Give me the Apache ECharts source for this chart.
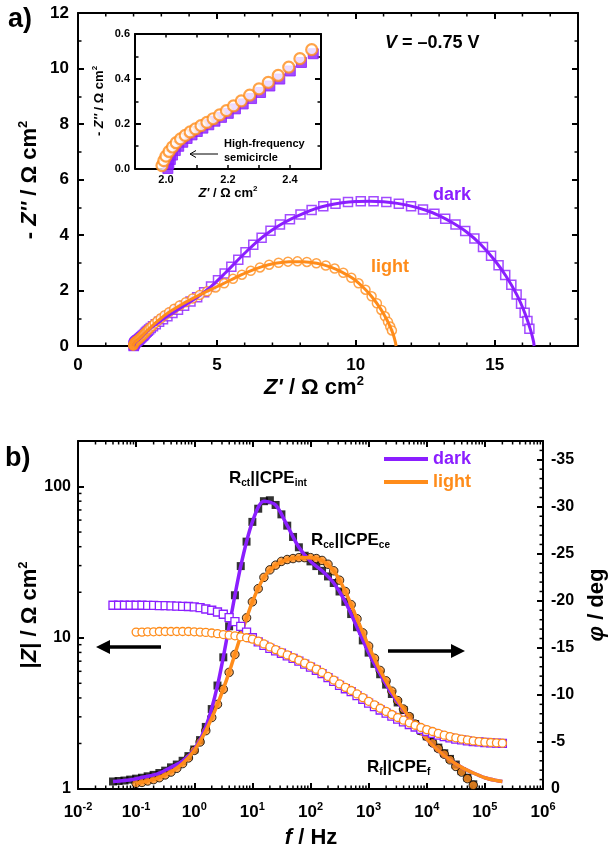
<!DOCTYPE html>
<html><head><meta charset="utf-8">
<script src="https://cdn.jsdelivr.net/npm/echarts@6.0.0/dist/echarts.min.js"></script>
<style>html,body{margin:0;padding:0;background:#fff}#c{width:609px;height:852px}</style>
</head><body><div id="c"></div>
<script>
// ---------- DATA ----------
// Panel a: Nyquist (Z', -Z'') in ohm cm2
const nyqDark = [[2.006,0.0],[2.009,0.02],[2.014,0.04],[2.021,0.06],[2.03,0.08],[2.041,0.099],[2.054,0.117],[2.068,0.134],[2.084,0.15],[2.101,0.165],[2.119,0.18],[2.138,0.195],[2.158,0.211],[2.179,0.228],[2.201,0.246],[2.224,0.266],[2.249,0.288],[2.276,0.312],[2.305,0.339],[2.335,0.368],[2.367,0.399],[2.401,0.435],[2.437,0.473],[2.475,0.512],[2.515,0.552],[2.56,0.595],[2.62,0.645],[2.7,0.71],[2.8,0.785],[2.92,0.87],[3.06,0.965],[3.22,1.07],[3.4,1.185],[3.6,1.31],[3.82,1.45],[4.05,1.6],[4.29,1.76],[4.54,1.94],[4.79,2.14],[5.04,2.37],[5.28,2.61],[5.52,2.86],[5.77,3.11],[6.03,3.38],[6.31,3.65],[6.61,3.9],[6.93,4.15],[7.27,4.38],[7.63,4.57],[8.01,4.74],[8.41,4.9],[8.83,5.04],[9.27,5.13],[9.72,5.19],[10.18,5.22],[10.64,5.22],[11.1,5.19],[11.55,5.13],[11.99,5.04],[12.42,4.92],[12.83,4.77],[13.22,4.59],[13.59,4.38],[13.94,4.14],[14.27,3.87],[14.58,3.57],[14.87,3.25],[15.14,2.91],[15.38,2.56],[15.6,2.21],[15.79,1.86],[15.95,1.52],[16.08,1.2],[16.18,0.9],[16.25,0.62]];
const nyqDarkFit = [[2.006,0],[2.02,0.06],[2.054,0.117],[2.1,0.165],[2.16,0.212],[2.25,0.289],[2.4,0.434],[2.6,0.63],[2.85,0.81],[3.1,0.99],[3.4,1.185],[3.75,1.41],[4.1,1.63],[4.5,1.91],[4.9,2.24],[5.3,2.63],[5.7,3.04],[6.1,3.44],[6.5,3.81],[6.9,4.12],[7.3,4.38],[7.7,4.59],[8.1,4.77],[8.5,4.93],[9.0,5.07],[9.5,5.16],[10.0,5.21],[10.5,5.22],[11.0,5.2],[11.5,5.14],[12.0,5.04],[12.5,4.9],[13.0,4.7],[13.5,4.43],[14.0,4.1],[14.5,3.66],[15.0,3.09],[15.4,2.53],[15.8,1.84],[16.1,1.15],[16.3,0.55],[16.4,0.16],[16.42,0]];
const nyqLight = [[1.987,0.013],[1.993,0.035],[2.0,0.055],[2.01,0.076],[2.021,0.096],[2.033,0.115],[2.047,0.132],[2.062,0.148],[2.078,0.163],[2.095,0.177],[2.113,0.191],[2.132,0.206],[2.152,0.222],[2.173,0.239],[2.195,0.258],[2.218,0.279],[2.243,0.302],[2.27,0.327],[2.3,0.355],[2.33,0.384],[2.362,0.415],[2.396,0.452],[2.432,0.49],[2.47,0.53],[2.51,0.57],[2.555,0.612],[2.61,0.665],[2.68,0.73],[2.76,0.81],[2.86,0.9],[2.98,1.0],[3.12,1.11],[3.28,1.22],[3.46,1.34],[3.66,1.46],[3.88,1.58],[4.12,1.71],[4.38,1.84],[4.65,1.97],[4.95,2.11],[5.26,2.26],[5.58,2.42],[5.9,2.57],[6.22,2.71],[6.55,2.83],[6.88,2.93],[7.22,3.0],[7.56,3.04],[7.9,3.05],[8.24,3.03],[8.58,2.98],[8.92,2.9],[9.24,2.79],[9.55,2.64],[9.84,2.46],[10.1,2.26],[10.35,2.03],[10.57,1.79],[10.76,1.54],[10.92,1.3],[11.05,1.07],[11.16,0.87],[11.24,0.7],[11.3,0.56]];
const nyqLightFit = [[1.985,0],[1.99,0.03],[2.01,0.076],[2.04,0.123],[2.08,0.164],[2.13,0.204],[2.2,0.262],[2.3,0.355],[2.42,0.478],[2.55,0.607],[2.75,0.8],[3.0,1.01],[3.3,1.23],[3.7,1.48],[4.1,1.7],[4.6,1.95],[5.1,2.18],[5.6,2.43],[6.1,2.66],[6.6,2.85],[7.1,2.98],[7.6,3.04],[8.1,3.04],[8.6,2.98],[9.1,2.84],[9.5,2.66],[9.9,2.43],[10.3,2.08],[10.6,1.75],[10.9,1.33],[11.1,0.98],[11.25,0.67],[11.36,0.38],[11.43,0.12],[11.45,0]];

// Panel b: Bode, frequency in Hz
const freq = [0.04,0.05,0.063,0.079,0.1,0.126,0.158,0.2,0.251,0.316,0.398,0.501,0.631,0.794,1,1.26,1.58,2,2.51,3.16,3.98,5.01,6.31,7.94,10,12.6,15.8,20,25.1,31.6,39.8,50.1,63.1,79.4,100,126,158,200,251,316,398,501,631,794,1000,1260,1580,2000,2510,3160,3980,5010,6310,7940,10000,12600,15800,20000,25100,31600,39800,50100,63100,79400,100000,126000,158000,200000];
const zDark = [16.4,16.4,16.4,16.4,16.4,16.4,16.35,16.35,16.3,16.3,
  16.25,16.2,16.15,16.1,16.0,15.8,15.5,15.2,14.8,14.3,
  13.6,12.8,11.9,10.9,10.0,9.4,8.9,8.5,8.2,7.9,
  7.6,7.3,7.0,6.7,6.4,6.1,5.8,5.45,5.15,4.85,
  4.6,4.4,4.15,3.92,3.7,3.5,3.33,3.17,3.03,2.9,
  2.78,2.67,2.57,2.48,2.4,2.33,2.27,2.22,2.18,2.14,
  2.11,2.08,2.06,2.05,2.03,2.02,2.01,2.0];
const zLight = ['-','-','-','-',10.9,10.9,10.95,10.95,11.0,11.0,
  11.0,11.0,11.0,11.0,10.95,10.9,10.85,10.75,10.65,10.5,
  10.4,10.3,10.15,10.0,9.8,9.5,9.1,8.7,8.35,8.0,
  7.7,7.4,7.1,6.8,6.5,6.2,5.9,5.55,5.25,4.95,
  4.7,4.48,4.25,4.02,3.8,3.6,3.42,3.26,3.11,2.97,
  2.85,2.74,2.64,2.55,2.47,2.4,2.33,2.27,2.22,2.18,
  2.14,2.11,2.08,2.06,2.04,2.03,2.02,2.01];
const phDark = [-0.8,-0.85,-0.9,-1.0,-1.1,-1.2,-1.35,-1.5,-1.7,-1.95,
  -2.3,-2.6,-3.0,-3.5,-4.2,-5.2,-6.6,-8.5,-11.0,-14.0,
  -17.3,-20.6,-23.7,-26.3,-28.4,-29.8,-30.6,-30.7,-30.2,-29.2,
  -28.0,-26.8,-25.7,-24.8,-24.2,-23.7,-23.2,-22.6,-21.9,-21.0,
  -19.9,-18.6,-17.2,-15.8,-14.5,-13.3,-12.2,-11.1,-10.1,-9.2,
  -8.4,-7.6,-6.9,-6.2,-5.6,-5.0,-4.4,-3.8,-3.2,-2.6,
  -1.9,-1.2,-0.5,0.2,1.0,1.8,2.6,3.4];
const phLight = ['-','-','-','-',-0.6,-0.7,-0.85,-1.0,-1.2,-1.5,
  -1.8,-2.2,-2.7,-3.3,-4.1,-5.0,-6.2,-7.6,-9.0,-10.6,
  -12.4,-14.3,-16.3,-18.2,-19.9,-21.3,-22.5,-23.3,-23.8,-24.2,
  -24.4,-24.5,-24.6,-24.6,-24.6,-24.5,-24.3,-23.9,-23.2,-22.2,
  -21.0,-19.6,-18.1,-16.6,-15.2,-13.9,-12.6,-11.5,-10.4,-9.4,
  -8.5,-7.7,-6.9,-6.2,-5.6,-4.9,-4.3,-3.7,-3.1,-2.4,
  -1.8,-1.1,-0.4,0.3,1.0,1.7,2.4,3.1];
const fitFreq = [0.04,0.063,0.1,0.158,0.251,0.398,0.631,1,1.58,2.51,3.98,6.31,10,15.8,25.1,39.8,63.1,100,158,251,398,631,1000,1580,2510,3980,6310,10000,15800,25100,39800,63100,100000,158000,200000];
const phFitDark = [-0.8,-0.9,-1.1,-1.35,-1.7,-2.3,-3.0,-4.2,-6.6,-11.0,-17.3,-23.7,-28.4,-30.6,-30.2,-28.0,-25.7,-24.2,-23.2,-21.9,-19.9,-17.2,-14.5,-12.2,-10.1,-8.4,-6.8,-5.3,-4.1,-3.1,-2.3,-1.7,-1.2,-0.9,-0.8];
const phFitLight = ['-','-',-0.6,-0.85,-1.2,-1.8,-2.7,-4.1,-6.2,-9.0,-12.4,-16.3,-19.9,-22.5,-23.8,-24.4,-24.6,-24.6,-24.3,-23.2,-21.0,-18.1,-15.2,-12.6,-10.4,-8.5,-6.8,-5.3,-4.1,-3.1,-2.3,-1.7,-1.2,-0.9,-0.8];

// ---------- STYLE ----------
const PURPLE = '#8B1EFF', ORANGE = '#FF8C1A';
const F = '"Liberation Sans", Arial, Helvetica, sans-serif';

const chart = echarts.init(document.getElementById('c'), null, {renderer: 'canvas'});

function pairs(xs, ys) { const out = []; xs.forEach((x, i) => { if (ys[i] !== '-') out.push([x, ys[i]]); }); return out; }
function lab(size, extra) { return Object.assign({fontFamily: F, fontWeight: 'bold', fontSize: size, color: '#000'}, extra || {}); }
const line2 = {onZero: false, lineStyle: {color: '#000', width: 2}};
const tickMaj = {inside: true, length: 6, lineStyle: {color: '#000', width: 2}};
const tickIn = {inside: true, length: 3.5, lineStyle: {color: '#000', width: 1.5}};
const minor2 = {show: true, splitNumber: 2, length: 3.5, lineStyle: {color: '#000', width: 1.5}};
const noSplit = {show: false};

function ln(x1, y1, x2, y2) { return {type: 'line', shape: {x1, y1, x2, y2}, style: {stroke: '#000', lineWidth: 1.5}}; }

// minor tick positions (axis decoration)
const minorA = []; for (let v = 1; v < 18; v++) if (v % 5) minorA.push([v, 0]);
const minorLogX = []; for (let k = -2; k <= 5; k++) for (let m = 2; m <= 9; m++) minorLogX.push([+(m * Math.pow(10, k)).toPrecision(3), 1]);
const minorLogY = []; for (let k = 0; k <= 1; k++) for (let m = 2; m <= 9; m++) minorLogY.push([0.01, +(m * Math.pow(10, k)).toPrecision(3)]);
const minorPh = []; for (let v = -1; v > -37; v--) if (v % 5) minorPh.push([1e6, v]);

const supRich = {
  b: {fontFamily: F, fontWeight: 'bold', fontSize: 17, color: '#000', lineHeight: 22},
  s: {fontFamily: F, fontWeight: 'bold', fontSize: 11, color: '#000', lineHeight: 12, verticalAlign: 'top'}
};

const option = {
  animation: false,
  backgroundColor: '#fff',
  grid: [
    {left: 78, top: 13, width: 500, height: 333},
    {left: 135, top: 34, width: 186, height: 134.5, show: true, backgroundColor: '#fff', borderWidth: 0},
    {left: 78, top: 441, width: 465, height: 348}
  ],
  xAxis: [
    {gridIndex: 0, type: 'value', min: 0, max: 18, interval: 5, position: 'bottom', axisLine: line2, axisTick: tickMaj, axisLabel: lab(17, {margin: 11, showMaxLabel: false}), splitLine: noSplit},
    {gridIndex: 0, type: 'value', min: 0, max: 18, interval: 5, position: 'top', axisLine: line2, axisTick: tickMaj, axisLabel: {show: false}, splitLine: noSplit},
    {gridIndex: 1, type: 'value', min: 1.9, max: 2.5, interval: 0.1, position: 'bottom', axisLine: line2, axisTick: tickIn,
      axisLabel: lab(11, {margin: 6, formatter: v => (Math.round(v * 10) % 2 === 0 ? v.toFixed(1) : '')}), splitLine: noSplit},
    {gridIndex: 1, type: 'value', min: 1.9, max: 2.5, interval: 0.1, position: 'top', axisLine: line2, axisTick: tickIn, axisLabel: {show: false}, splitLine: noSplit},
    {gridIndex: 2, type: 'log', logBase: 10, min: 0.01, max: 1e6, position: 'bottom', axisLine: line2, axisTick: tickMaj,
      axisLabel: {margin: 12, formatter: v => '{b|10}{s|' + Math.round(Math.log10(v)) + '}', rich: supRich}, splitLine: noSplit},
    {gridIndex: 2, type: 'log', logBase: 10, min: 0.01, max: 1e6, position: 'top', axisLine: line2, axisTick: tickMaj, axisLabel: {show: false}, splitLine: noSplit}
  ],
  yAxis: [
    {gridIndex: 0, type: 'value', min: 0, max: 12, interval: 2, position: 'left', axisLine: line2, axisTick: tickMaj, minorTick: minor2, axisLabel: lab(17, {margin: 9}), splitLine: noSplit, minorSplitLine: noSplit},
    {gridIndex: 0, type: 'value', min: 0, max: 12, interval: 2, position: 'right', axisLine: line2, axisTick: tickMaj, minorTick: minor2, axisLabel: {show: false}, splitLine: noSplit},
    {gridIndex: 1, type: 'value', min: 0, max: 0.6, interval: 0.2, position: 'left', axisLine: line2, axisTick: tickMaj, minorTick: minor2,
      axisLabel: lab(11, {margin: 5, formatter: v => v.toFixed(1)}), splitLine: noSplit},
    {gridIndex: 1, type: 'value', min: 0, max: 0.6, interval: 0.2, position: 'right', axisLine: line2, axisTick: tickMaj, minorTick: minor2, axisLabel: {show: false}, splitLine: noSplit},
    {gridIndex: 2, type: 'log', logBase: 10, min: 1, max: 200, position: 'left', axisLine: line2, axisTick: tickMaj,
      axisLabel: lab(16, {margin: 7, showMaxLabel: false, formatter: v => String(Math.round(v))}), splitLine: noSplit},
    {gridIndex: 2, type: 'value', min: -37, max: 0, inverse: true, splitNumber: 8, position: 'right', axisLine: line2, axisTick: tickMaj,
      axisLabel: lab(16, {margin: 8, showMinLabel: false}), splitLine: noSplit}
  ],
  series: [
    // panel a main
    {type: 'scatter', xAxisIndex: 0, yAxisIndex: 0, data: nyqDark, symbol: 'rect', symbolSize: 9, itemStyle: {color: '#fff', borderColor: PURPLE, borderWidth: 1.5}},
    {type: 'line', xAxisIndex: 0, yAxisIndex: 0, data: nyqDarkFit, showSymbol: false, smooth: 0.3, lineStyle: {color: PURPLE, width: 3}},
    {type: 'scatter', xAxisIndex: 0, yAxisIndex: 0, data: nyqLight, symbol: 'circle', symbolSize: 9, itemStyle: {color: '#fff', borderColor: ORANGE, borderWidth: 1.5}},
    {type: 'line', xAxisIndex: 0, yAxisIndex: 0, data: nyqLightFit, showSymbol: false, smooth: 0.3, lineStyle: {color: ORANGE, width: 3}},
    // inset
    {type: 'scatter', xAxisIndex: 2, yAxisIndex: 2, data: nyqDark, symbol: 'rect', symbolSize: 10, clip: true, itemStyle: {color: PURPLE, borderColor: PURPLE, borderWidth: 1}},
    {type: 'scatter', xAxisIndex: 2, yAxisIndex: 2, data: nyqLight, symbol: 'circle', symbolSize: 11, clip: true, itemStyle: {color: '#fff', borderColor: ORANGE, borderWidth: 2.2}},
    // panel b |Z|
    {type: 'line', xAxisIndex: 4, yAxisIndex: 4, data: pairs(freq, zDark), symbol: 'rect', symbolSize: 8, showSymbol: true,
      itemStyle: {color: '#fff', borderColor: PURPLE, borderWidth: 1.3}, lineStyle: {color: PURPLE, width: 1}},
    {type: 'line', xAxisIndex: 4, yAxisIndex: 4, data: pairs(freq, zLight), symbol: 'circle', symbolSize: 8, showSymbol: true,
      itemStyle: {color: '#fff', borderColor: ORANGE, borderWidth: 1.3}, lineStyle: {color: ORANGE, width: 1}},
    // panel b phase
    {type: 'scatter', xAxisIndex: 4, yAxisIndex: 5, data: pairs(freq, phDark), symbol: 'rect', symbolSize: 8, itemStyle: {color: '#000'}},
    {type: 'line', xAxisIndex: 4, yAxisIndex: 5, data: pairs(fitFreq, phFitDark), showSymbol: false, smooth: 0.3, lineStyle: {color: PURPLE, width: 3.5}},
    {type: 'scatter', xAxisIndex: 4, yAxisIndex: 5, data: pairs(freq, phLight), symbol: 'circle', symbolSize: 8.5, itemStyle: {color: ORANGE, borderColor: '#000', borderWidth: 1}},
    {type: 'line', xAxisIndex: 4, yAxisIndex: 5, data: pairs(fitFreq, phFitLight), showSymbol: false, smooth: 0.3, lineStyle: {color: ORANGE, width: 3.5}},
    // minor ticks
    {type: 'custom', xAxisIndex: 0, yAxisIndex: 0, data: minorA, clip: false, silent: true,
      renderItem: (p, api) => { const v = api.value(0); const b = api.coord([v, 0]); const t = api.coord([v, 12]);
        return {type: 'group', children: [ln(b[0], b[1], b[0], b[1] - 3.5), ln(t[0], t[1], t[0], t[1] + 3.5)]}; }},
    {type: 'custom', xAxisIndex: 4, yAxisIndex: 4, data: minorLogX, clip: false, silent: true,
      renderItem: (p, api) => { const v = api.value(0); const b = api.coord([v, 1]); const t = api.coord([v, 200]);
        return {type: 'group', children: [ln(b[0], b[1], b[0], b[1] - 3.5), ln(t[0], t[1], t[0], t[1] + 3.5)]}; }},
    {type: 'custom', xAxisIndex: 4, yAxisIndex: 4, data: minorLogY, clip: false, silent: true,
      renderItem: (p, api) => { const q = api.coord([0.01, api.value(1)]); return ln(q[0], q[1], q[0] + 3.5, q[1]); }},
    {type: 'custom', xAxisIndex: 4, yAxisIndex: 5, data: minorPh, clip: false, silent: true,
      renderItem: (p, api) => { const q = api.coord([1e6, api.value(1)]); return ln(q[0], q[1], q[0] - 3.5, q[1]); }}
  ],
  graphic: []
};

// ---------- TEXT / ANNOTATIONS ----------
function rich(size) {
  return {
    n: {fontFamily: F, fontWeight: 'bold', fontSize: size, fill: '#000', lineHeight: size + 4},
    i: {fontFamily: F, fontWeight: 'bold', fontStyle: 'italic', fontSize: size, fill: '#000', lineHeight: size + 4},
    s: {fontFamily: F, fontWeight: 'bold', fontSize: Math.round(size * 0.6), fill: '#000', lineHeight: Math.round(size * 0.6), verticalAlign: 'top'}
  };
}
function txt(x, y, text, size, opt) {
  opt = opt || {};
  return {type: 'text', x, y, rotation: opt.rot || 0, z: 100,
    style: {text, rich: rich(size), align: opt.align || 'center', verticalAlign: 'middle', fill: opt.fill || '#000',
      font: 'bold ' + size + 'px ' + F}};
}
function subRich(size, color) {
  return {
    m: {fontFamily: F, fontWeight: 'bold', fontSize: size, fill: color, lineHeight: size + 4},
    b: {fontFamily: F, fontWeight: 'bold', fontSize: Math.round(size * 0.6), fill: color, lineHeight: Math.round(size * 0.6), verticalAlign: 'bottom'}
  };
}
function subTxt(x, y, text, size) {
  return {type: 'text', x, y, z: 100, style: {text, rich: subRich(size, '#000'), align: 'left', verticalAlign: 'middle'}};
}
const G = option.graphic;
G.push(txt(8, 20, 'a)', 27, {align: 'left'}));
G.push(txt(5, 459, 'b)', 27, {align: 'left'}));
G.push(txt(385, 43, '{i|V}{n| = \u20130.75 V}', 18, {align: 'left'}));
G.push(txt(314, 388, "{i|Z'}{n| / \u03A9 cm}{s|2}", 22));
G.push(txt(30, 180, "{n|- }{i|Z''}{n| / \u03A9 cm}{s|2}", 22, {rot: Math.PI / 2}));
G.push(txt(228, 193, "{i|Z'}{n| / \u03A9 cm}{s|2}", 13));
G.push(txt(99, 101, "{n|- }{i|Z''}{n| / \u03A9 cm}{s|2}", 13, {rot: Math.PI / 2}));
G.push({type: 'text', x: 433, y: 195, z: 100, style: {text: 'dark', font: 'bold 18px ' + F, fill: PURPLE, align: 'left', verticalAlign: 'middle'}});
G.push({type: 'text', x: 371, y: 267, z: 100, style: {text: 'light', font: 'bold 18px ' + F, fill: ORANGE, align: 'left', verticalAlign: 'middle'}});
G.push({type: 'text', x: 224, y: 144, z: 100, style: {text: 'High-frequency', font: 'bold 11px ' + F, fill: '#000', align: 'left', verticalAlign: 'middle'}});
G.push({type: 'text', x: 224, y: 158, z: 100, style: {text: 'semicircle', font: 'bold 11px ' + F, fill: '#000', align: 'left', verticalAlign: 'middle'}});
G.push({type: 'line', z: 100, shape: {x1: 218, y1: 154, x2: 190, y2: 154}, style: {stroke: '#000', lineWidth: 1}});
G.push({type: 'polyline', z: 100, shape: {points: [[196, 150.5], [190, 154], [196, 157.5]]}, style: {stroke: '#000', lineWidth: 1, fill: null}});
// panel b
G.push(txt(30, 615, "{n||}{i|Z}{n|| / \u03A9 cm}{s|2}", 22, {rot: Math.PI / 2}));
G.push(txt(597, 605, "{i|\u03C6}{n| / deg}", 22, {rot: Math.PI / 2}));
G.push(txt(311, 838, "{i|f}{n| / Hz}", 22));
G.push({type: 'line', z: 100, shape: {x1: 384, y1: 459, x2: 428, y2: 459}, style: {stroke: PURPLE, lineWidth: 4}});
G.push({type: 'line', z: 100, shape: {x1: 384, y1: 482, x2: 428, y2: 482}, style: {stroke: ORANGE, lineWidth: 4}});
G.push({type: 'text', x: 433, y: 459, z: 100, style: {text: 'dark', font: 'bold 18px ' + F, fill: PURPLE, align: 'left', verticalAlign: 'middle'}});
G.push({type: 'text', x: 433, y: 482, z: 100, style: {text: 'light', font: 'bold 18px ' + F, fill: ORANGE, align: 'left', verticalAlign: 'middle'}});
G.push(subTxt(229, 478, '{m|R}{b|ct}{m|||CPE}{b|int}', 17));
G.push(subTxt(311, 540, '{m|R}{b|ce}{m|||CPE}{b|ce}', 17));
G.push(subTxt(367, 767, '{m|R}{b|f}{m|||CPE}{b|f}', 17));
G.push({type: 'line', z: 100, shape: {x1: 161, y1: 647, x2: 106, y2: 647}, style: {stroke: '#000', lineWidth: 3.5}});
G.push({type: 'polygon', z: 100, shape: {points: [[96, 647], [110, 640], [110, 654]]}, style: {fill: '#000'}});
G.push({type: 'line', z: 100, shape: {x1: 388, y1: 651, x2: 454, y2: 651}, style: {stroke: '#000', lineWidth: 3.5}});
G.push({type: 'polygon', z: 100, shape: {points: [[465, 651], [451, 644], [451, 658]]}, style: {fill: '#000'}});

chart.setOption(option);
</script></body></html>
